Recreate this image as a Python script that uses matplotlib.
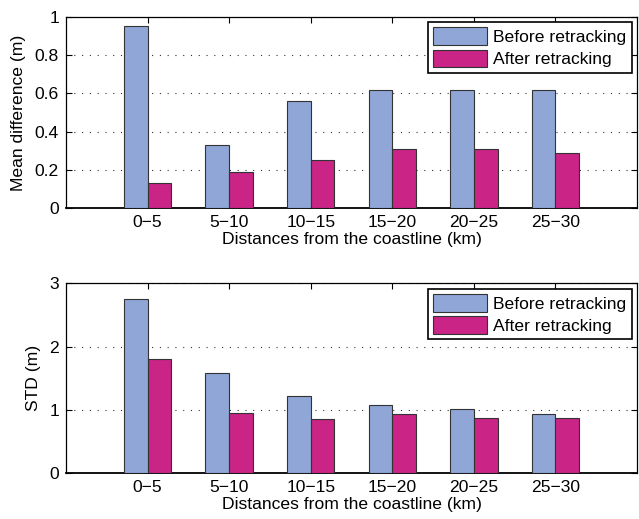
import matplotlib
matplotlib.use("Agg")
import matplotlib.pyplot as plt
import numpy as np

plt.rcParams['font.family'] = ['Liberation Sans', 'DejaVu Sans']

categories = ["0\u22125", "5\u221210", "10\u221215", "15\u221220", "20\u221225", "25\u221230"]
mean_before = [0.95, 0.33, 0.56, 0.62, 0.62, 0.62]
mean_after = [0.13, 0.19, 0.25, 0.31, 0.31, 0.29]
std_before = [2.75, 1.58, 1.22, 1.08, 1.02, 0.93]
std_after = [1.80, 0.95, 0.85, 0.94, 0.87, 0.87]

c_before = '#8FA6D6'
c_after = '#C92486'

fig = plt.figure(figsize=(6.39, 5.19), dpi=100)
ax1 = fig.add_axes([0.1033, 0.5986, 0.8936, 0.3692])
ax2 = fig.add_axes([0.1033, 0.0880, 0.8936, 0.3661])

x = np.arange(1, len(categories) + 1)
w = 0.29
fs = 12.6

def draw(ax, before, after, ylim, yticks, yticklabels, ylabel):
    ax.bar(x - w / 2, before, w, color=c_before, edgecolor='#333333', linewidth=0.8,
           label='Before retracking', zorder=3)
    ax.bar(x + w / 2, after, w, color=c_after, edgecolor='#333333', linewidth=0.8,
           label='After retracking', zorder=3)
    ax.set_xlim(0, 7)
    ax.set_ylim(*ylim)
    ax.set_xticks(x)
    ax.set_xticklabels(categories, fontsize=fs)
    ax.set_yticks(yticks)
    ax.set_yticklabels(yticklabels, fontsize=fs)
    ax.yaxis.grid(True, linestyle=(0, (1, 6)), color='#333333', linewidth=0.8)
    ax.set_axisbelow(True)
    ax.tick_params(direction='in', top=True, right=True, length=4, width=0.8, pad=5)
    for s in ax.spines.values():
        s.set_linewidth(0.9)
    ax.spines['bottom'].set_linewidth(1.3)
    ax.set_xlabel('Distances from the coastline (km)', fontsize=fs, labelpad=1)
    ax.set_ylabel(ylabel, fontsize=fs, labelpad=6)
    leg = ax.legend(loc='upper right', fontsize=fs, frameon=True, fancybox=False,
                    edgecolor='black', framealpha=1, borderpad=0.3, handlelength=3.1,
                    handleheight=1.2, handletextpad=0.35, labelspacing=0.25,
                    borderaxespad=0.3)
    leg.get_frame().set_linewidth(1.2)

draw(ax1, mean_before, mean_after, (0, 1), [0, 0.2, 0.4, 0.6, 0.8, 1.0],
     ['0', '0.2', '0.4', '0.6', '0.8', '1'], 'Mean difference (m)')
draw(ax2, std_before, std_after, (0, 3), [0, 1, 2, 3],
     ['0', '1', '2', '3'], 'STD (m)')

fig.savefig('out.png', dpi=100)
